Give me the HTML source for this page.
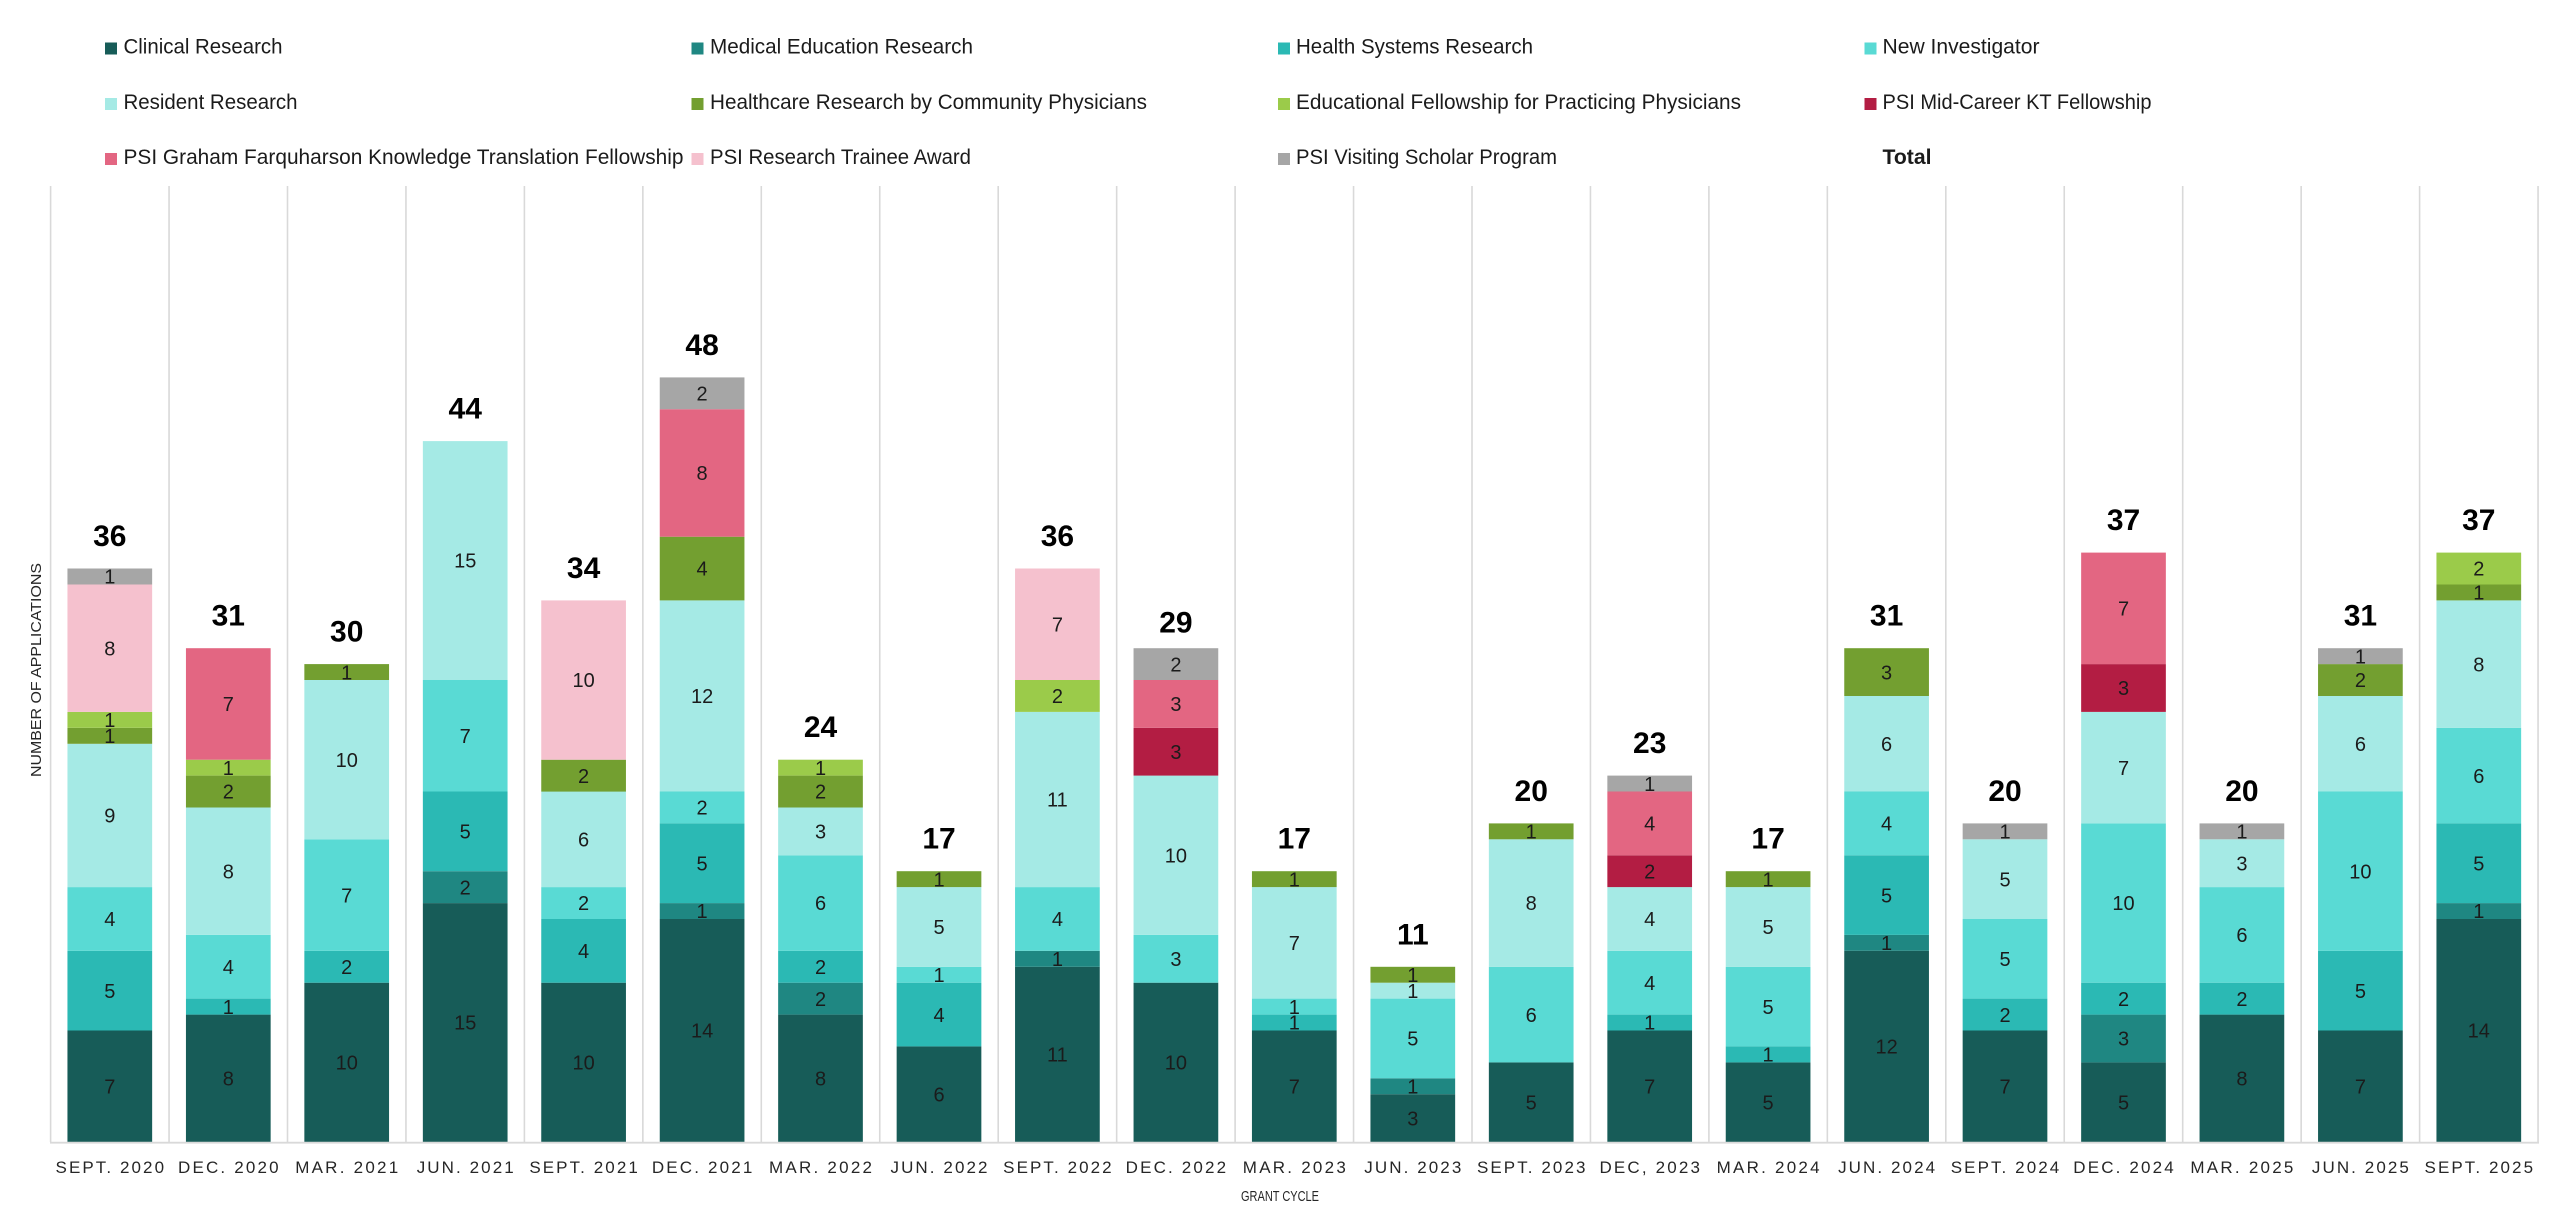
<!DOCTYPE html>
<html>
<head>
<meta charset="utf-8">
<style>
html,body{margin:0;padding:0;background:#fff;}
svg{display:block;}
text{font-family:"Liberation Sans",Arial,sans-serif;}
.c1{fill:#175C58}.c2{fill:#1F8782}.c3{fill:#2BB9B4}.c4{fill:#59DAD4}.c5{fill:#A5EAE5}
.c6{fill:#739F30}.c7{fill:#9BCB4A}.c8{fill:#B31D43}.c9{fill:#E36682}.c10{fill:#F5C1CE}.c11{fill:#A6A6A6}
.bar text{font-size:20px;fill:#1b1b1b;text-anchor:middle;}
.bar text.t{font-size:30px;font-weight:bold;fill:#000;}
.lg text{font-size:21px;fill:#1b1b1b;}
.xl text{font-size:17px;fill:#262626;text-anchor:middle;}
</style>
</head>
<body>
<svg width="2560" height="1232" viewBox="0 0 2560 1232" xmlns="http://www.w3.org/2000/svg">
<rect width="2560" height="1232" fill="#fff"/>

<!-- Legend -->
<g class="lg">
  <rect class="c1" x="105" y="42.5" width="12" height="12"/><text x="123.5" y="53.5" textLength="159" lengthAdjust="spacingAndGlyphs">Clinical Research</text>
  <rect class="c2" x="691.5" y="42.5" width="12" height="12"/><text x="710" y="53.5" textLength="263" lengthAdjust="spacingAndGlyphs">Medical Education Research</text>
  <rect class="c3" x="1278" y="42.5" width="12" height="12"/><text x="1296" y="53.5" textLength="237" lengthAdjust="spacingAndGlyphs">Health Systems Research</text>
  <rect class="c4" x="1864.5" y="42.5" width="12" height="12"/><text x="1882.5" y="53.5" textLength="157" lengthAdjust="spacingAndGlyphs">New Investigator</text>

  <rect class="c5" x="105" y="98" width="12" height="12"/><text x="123.5" y="109" textLength="174" lengthAdjust="spacingAndGlyphs">Resident Research</text>
  <rect class="c6" x="691.5" y="98" width="12" height="12"/><text x="710" y="109" textLength="437" lengthAdjust="spacingAndGlyphs">Healthcare Research by Community Physicians</text>
  <rect class="c7" x="1278" y="98" width="12" height="12"/><text x="1296" y="109" textLength="445" lengthAdjust="spacingAndGlyphs">Educational Fellowship for Practicing Physicians</text>
  <rect class="c8" x="1864.5" y="98" width="12" height="12"/><text x="1882.5" y="109" textLength="269" lengthAdjust="spacingAndGlyphs">PSI Mid-Career KT Fellowship</text>

  <rect class="c9" x="105" y="153" width="12" height="12"/><text x="123.5" y="164" textLength="560" lengthAdjust="spacingAndGlyphs">PSI Graham Farquharson Knowledge Translation Fellowship</text>
  <rect class="c10" x="691.5" y="153" width="12" height="12"/><text x="710" y="164" textLength="261" lengthAdjust="spacingAndGlyphs">PSI Research Trainee Award</text>
  <rect class="c11" x="1278" y="153" width="12" height="12"/><text x="1296" y="164" textLength="261" lengthAdjust="spacingAndGlyphs">PSI Visiting Scholar Program</text>
  <text x="1882.5" y="164" font-weight="bold" textLength="49" lengthAdjust="spacingAndGlyphs">Total</text>
</g>

<!-- Gridlines -->
<g stroke="#D9D9D9" stroke-width="1.6">
  <line x1="50.6" y1="186" x2="50.6" y2="1142"/>
  <line x1="169.05" y1="186" x2="169.05" y2="1142"/>
  <line x1="287.5" y1="186" x2="287.5" y2="1142"/>
  <line x1="405.95" y1="186" x2="405.95" y2="1142"/>
  <line x1="524.4" y1="186" x2="524.4" y2="1142"/>
  <line x1="642.85" y1="186" x2="642.85" y2="1142"/>
  <line x1="761.3" y1="186" x2="761.3" y2="1142"/>
  <line x1="879.75" y1="186" x2="879.75" y2="1142"/>
  <line x1="998.2" y1="186" x2="998.2" y2="1142"/>
  <line x1="1116.65" y1="186" x2="1116.65" y2="1142"/>
  <line x1="1235.1" y1="186" x2="1235.1" y2="1142"/>
  <line x1="1353.55" y1="186" x2="1353.55" y2="1142"/>
  <line x1="1472" y1="186" x2="1472" y2="1142"/>
  <line x1="1590.45" y1="186" x2="1590.45" y2="1142"/>
  <line x1="1708.9" y1="186" x2="1708.9" y2="1142"/>
  <line x1="1827.35" y1="186" x2="1827.35" y2="1142"/>
  <line x1="1945.8" y1="186" x2="1945.8" y2="1142"/>
  <line x1="2064.25" y1="186" x2="2064.25" y2="1142"/>
  <line x1="2182.7" y1="186" x2="2182.7" y2="1142"/>
  <line x1="2301.15" y1="186" x2="2301.15" y2="1142"/>
  <line x1="2419.6" y1="186" x2="2419.6" y2="1142"/>
  <line x1="2538.05" y1="186" x2="2538.05" y2="1142"/>
</g>

<!-- Bars -->
<g class="bar" transform="translate(109.8,0)">
  <rect class="c1" x="-42.35" y="1030.5" width="84.7" height="111.5"/>
  <rect class="c3" x="-42.35" y="950.8" width="84.7" height="79.7"/>
  <rect class="c4" x="-42.35" y="887.1" width="84.7" height="63.7"/>
  <rect class="c5" x="-42.35" y="743.8" width="84.7" height="143.3"/>
  <rect class="c6" x="-42.35" y="727.8" width="84.7" height="16"/>
  <rect class="c7" x="-42.35" y="711.9" width="84.7" height="15.9"/>
  <rect class="c10" x="-42.35" y="584.5" width="84.7" height="127.4"/>
  <rect class="c11" x="-42.35" y="568.5" width="84.7" height="16"/>
  <text y="1093.4">7</text><text y="997.9">5</text><text y="926.2">4</text><text y="822.6">9</text>
  <text y="743">1</text><text y="727.1">1</text><text y="655.4">8</text><text y="583.7">1</text>
  <text class="t" y="546">36</text>
</g>
<g class="bar" transform="translate(228.3,0)">
  <rect class="c1" x="-42.35" y="1014.6" width="84.7" height="127.4"/>
  <rect class="c3" x="-42.35" y="998.6" width="84.7" height="16"/>
  <rect class="c4" x="-42.35" y="934.9" width="84.7" height="63.7"/>
  <rect class="c5" x="-42.35" y="807.5" width="84.7" height="127.4"/>
  <rect class="c6" x="-42.35" y="775.6" width="84.7" height="31.9"/>
  <rect class="c7" x="-42.35" y="759.7" width="84.7" height="15.9"/>
  <rect class="c9" x="-42.35" y="648.2" width="84.7" height="111.5"/>
  <text y="1085.5">8</text><text y="1013.8">1</text><text y="974">4</text><text y="878.4">8</text>
  <text y="798.7">2</text><text y="774.8">1</text><text y="711.1">7</text>
  <text class="t" y="625.7">31</text>
</g>
<g class="bar" transform="translate(346.7,0)">
  <rect class="c1" x="-42.35" y="982.7" width="84.7" height="159.3"/>
  <rect class="c3" x="-42.35" y="950.8" width="84.7" height="31.9"/>
  <rect class="c4" x="-42.35" y="839.3" width="84.7" height="111.5"/>
  <rect class="c5" x="-42.35" y="680" width="84.7" height="159.3"/>
  <rect class="c6" x="-42.35" y="664.1" width="84.7" height="15.9"/>
  <text y="1069.6">10</text><text y="974">2</text><text y="902.3">7</text><text y="766.9">10</text><text y="679.3">1</text>
  <text class="t" y="641.6">30</text>
</g>
<g class="bar" transform="translate(465.2,0)">
  <rect class="c1" x="-42.35" y="903.1" width="84.7" height="238.9"/>
  <rect class="c2" x="-42.35" y="871.2" width="84.7" height="31.9"/>
  <rect class="c3" x="-42.35" y="791.5" width="84.7" height="79.7"/>
  <rect class="c4" x="-42.35" y="680" width="84.7" height="111.5"/>
  <rect class="c5" x="-42.35" y="441.1" width="84.7" height="238.9"/>
  <text y="1029.7">15</text><text y="894.3">2</text><text y="838.6">5</text><text y="743">7</text><text y="567.7">15</text>
  <text class="t" y="418.6">44</text>
</g>
<g class="bar" transform="translate(583.6,0)">
  <rect class="c1" x="-42.35" y="982.7" width="84.7" height="159.3"/>
  <rect class="c3" x="-42.35" y="919" width="84.7" height="63.7"/>
  <rect class="c4" x="-42.35" y="887.1" width="84.7" height="31.9"/>
  <rect class="c5" x="-42.35" y="791.5" width="84.7" height="95.6"/>
  <rect class="c6" x="-42.35" y="759.7" width="84.7" height="31.9"/>
  <rect class="c10" x="-42.35" y="600.4" width="84.7" height="159.3"/>
  <text y="1069.6">10</text><text y="958">4</text><text y="910.2">2</text><text y="846.5">6</text><text y="782.8">2</text><text y="687.2">10</text>
  <text class="t" y="577.9">34</text>
</g>
<g class="bar" transform="translate(702.1,0)">
  <rect class="c1" x="-42.35" y="919" width="84.7" height="223"/>
  <rect class="c2" x="-42.35" y="903.1" width="84.7" height="15.9"/>
  <rect class="c3" x="-42.35" y="823.4" width="84.7" height="79.7"/>
  <rect class="c4" x="-42.35" y="791.5" width="84.7" height="31.9"/>
  <rect class="c5" x="-42.35" y="600.4" width="84.7" height="191.1"/>
  <rect class="c6" x="-42.35" y="536.7" width="84.7" height="63.7"/>
  <rect class="c9" x="-42.35" y="409.2" width="84.7" height="127.5"/>
  <rect class="c11" x="-42.35" y="377.4" width="84.7" height="31.8"/>
  <text y="1037.7">14</text><text y="918.2">1</text><text y="870.4">5</text><text y="814.7">2</text>
  <text y="703.2">12</text><text y="575.7">4</text><text y="480.1">8</text><text y="400.5">2</text>
  <text class="t" y="354.9">48</text>
</g>
<g class="bar" transform="translate(820.5,0)">
  <rect class="c1" x="-42.35" y="1014.6" width="84.7" height="127.4"/>
  <rect class="c2" x="-42.35" y="982.7" width="84.7" height="31.9"/>
  <rect class="c3" x="-42.35" y="950.8" width="84.7" height="31.9"/>
  <rect class="c4" x="-42.35" y="855.3" width="84.7" height="95.5"/>
  <rect class="c5" x="-42.35" y="807.5" width="84.7" height="47.8"/>
  <rect class="c6" x="-42.35" y="775.6" width="84.7" height="31.9"/>
  <rect class="c7" x="-42.35" y="759.7" width="84.7" height="15.9"/>
  <text y="1085.5">8</text><text y="1005.8">2</text><text y="974">2</text><text y="910.2">6</text>
  <text y="838.6">3</text><text y="798.7">2</text><text y="774.8">1</text>
  <text class="t" y="737.2">24</text>
</g>
<g class="bar" transform="translate(939,0)">
  <rect class="c1" x="-42.35" y="1046.4" width="84.7" height="95.6"/>
  <rect class="c3" x="-42.35" y="982.7" width="84.7" height="63.7"/>
  <rect class="c4" x="-42.35" y="966.8" width="84.7" height="15.9"/>
  <rect class="c5" x="-42.35" y="887.1" width="84.7" height="79.7"/>
  <rect class="c6" x="-42.35" y="871.2" width="84.7" height="15.9"/>
  <text y="1101.4">6</text><text y="1021.8">4</text><text y="981.9">1</text><text y="934.1">5</text><text y="886.4">1</text>
  <text class="t" y="848.7">17</text>
</g>
<g class="bar" transform="translate(1057.4,0)">
  <rect class="c1" x="-42.35" y="966.8" width="84.7" height="175.2"/>
  <rect class="c2" x="-42.35" y="950.8" width="84.7" height="16"/>
  <rect class="c4" x="-42.35" y="887.1" width="84.7" height="63.7"/>
  <rect class="c5" x="-42.35" y="711.9" width="84.7" height="175.2"/>
  <rect class="c7" x="-42.35" y="680" width="84.7" height="31.9"/>
  <rect class="c10" x="-42.35" y="568.5" width="84.7" height="111.5"/>
  <text y="1061.6">11</text><text y="966">1</text><text y="926.2">4</text><text y="806.7">11</text><text y="703.2">2</text><text y="631.5">7</text>
  <text class="t" y="546">36</text>
</g>
<g class="bar" transform="translate(1175.9,0)">
  <rect class="c1" x="-42.35" y="982.7" width="84.7" height="159.3"/>
  <rect class="c4" x="-42.35" y="934.9" width="84.7" height="47.8"/>
  <rect class="c5" x="-42.35" y="775.6" width="84.7" height="159.3"/>
  <rect class="c8" x="-42.35" y="727.8" width="84.7" height="47.8"/>
  <rect class="c9" x="-42.35" y="680" width="84.7" height="47.8"/>
  <rect class="c11" x="-42.35" y="648.2" width="84.7" height="31.8"/>
  <text y="1069.6">10</text><text y="966">3</text><text y="862.5">10</text><text y="758.9">3</text><text y="711.1">3</text><text y="671.3">2</text>
  <text class="t" y="632.7">29</text>
</g>
<g class="bar" transform="translate(1294.3,0)">
  <rect class="c1" x="-42.35" y="1030.5" width="84.7" height="111.5"/>
  <rect class="c3" x="-42.35" y="1014.6" width="84.7" height="15.9"/>
  <rect class="c4" x="-42.35" y="998.6" width="84.7" height="16"/>
  <rect class="c5" x="-42.35" y="887.1" width="84.7" height="111.5"/>
  <rect class="c6" x="-42.35" y="871.2" width="84.7" height="15.9"/>
  <text y="1093.4">7</text><text y="1029.7">1</text><text y="1013.8">1</text><text y="950.1">7</text><text y="886.4">1</text>
  <text class="t" y="848.7">17</text>
</g>
<g class="bar" transform="translate(1412.8,0)">
  <rect class="c1" x="-42.35" y="1094.2" width="84.7" height="47.8"/>
  <rect class="c2" x="-42.35" y="1078.3" width="84.7" height="15.9"/>
  <rect class="c4" x="-42.35" y="998.6" width="84.7" height="79.7"/>
  <rect class="c5" x="-42.35" y="982.7" width="84.7" height="15.9"/>
  <rect class="c6" x="-42.35" y="966.8" width="84.7" height="15.9"/>
  <text y="1125.3">3</text><text y="1093.4">1</text><text y="1045.7">5</text><text y="997.9">1</text><text y="981.9">1</text>
  <text class="t" y="944.3">11</text>
</g>
<g class="bar" transform="translate(1531.2,0)">
  <rect class="c1" x="-42.35" y="1062.4" width="84.7" height="79.6"/>
  <rect class="c4" x="-42.35" y="966.8" width="84.7" height="95.6"/>
  <rect class="c5" x="-42.35" y="839.3" width="84.7" height="127.5"/>
  <rect class="c6" x="-42.35" y="823.4" width="84.7" height="15.9"/>
  <text y="1109.4">5</text><text y="1021.8">6</text><text y="910.2">8</text><text y="838.6">1</text>
  <text class="t" y="800.9">20</text>
</g>
<g class="bar" transform="translate(1649.7,0)">
  <rect class="c1" x="-42.35" y="1030.5" width="84.7" height="111.5"/>
  <rect class="c3" x="-42.35" y="1014.6" width="84.7" height="15.9"/>
  <rect class="c4" x="-42.35" y="950.8" width="84.7" height="63.8"/>
  <rect class="c5" x="-42.35" y="887.1" width="84.7" height="63.7"/>
  <rect class="c8" x="-42.35" y="855.3" width="84.7" height="31.8"/>
  <rect class="c9" x="-42.35" y="791.5" width="84.7" height="63.8"/>
  <rect class="c11" x="-42.35" y="775.6" width="84.7" height="15.9"/>
  <text y="1093.4">7</text><text y="1029.7">1</text><text y="989.9">4</text><text y="926.2">4</text>
  <text y="878.4">2</text><text y="830.6">4</text><text y="790.8">1</text>
  <text class="t" y="753.1">23</text>
</g>
<g class="bar" transform="translate(1768.1,0)">
  <rect class="c1" x="-42.35" y="1062.4" width="84.7" height="79.6"/>
  <rect class="c3" x="-42.35" y="1046.4" width="84.7" height="16"/>
  <rect class="c4" x="-42.35" y="966.8" width="84.7" height="79.6"/>
  <rect class="c5" x="-42.35" y="887.1" width="84.7" height="79.7"/>
  <rect class="c6" x="-42.35" y="871.2" width="84.7" height="15.9"/>
  <text y="1109.4">5</text><text y="1061.6">1</text><text y="1013.8">5</text><text y="934.1">5</text><text y="886.4">1</text>
  <text class="t" y="848.7">17</text>
</g>
<g class="bar" transform="translate(1886.6,0)">
  <rect class="c1" x="-42.35" y="950.8" width="84.7" height="191.2"/>
  <rect class="c2" x="-42.35" y="934.9" width="84.7" height="15.9"/>
  <rect class="c3" x="-42.35" y="855.3" width="84.7" height="79.6"/>
  <rect class="c4" x="-42.35" y="791.5" width="84.7" height="63.8"/>
  <rect class="c5" x="-42.35" y="696" width="84.7" height="95.5"/>
  <rect class="c6" x="-42.35" y="648.2" width="84.7" height="47.8"/>
  <text y="1053.6">12</text><text y="950.1">1</text><text y="902.3">5</text><text y="830.6">4</text><text y="750.9">6</text><text y="679.3">3</text>
  <text class="t" y="625.7">31</text>
</g>
<g class="bar" transform="translate(2005,0)">
  <rect class="c1" x="-42.35" y="1030.5" width="84.7" height="111.5"/>
  <rect class="c3" x="-42.35" y="998.6" width="84.7" height="31.9"/>
  <rect class="c4" x="-42.35" y="919" width="84.7" height="79.6"/>
  <rect class="c5" x="-42.35" y="839.3" width="84.7" height="79.7"/>
  <rect class="c11" x="-42.35" y="823.4" width="84.7" height="15.9"/>
  <text y="1093.4">7</text><text y="1021.8">2</text><text y="966">5</text><text y="886.4">5</text><text y="838.6">1</text>
  <text class="t" y="800.9">20</text>
</g>
<g class="bar" transform="translate(2123.5,0)">
  <rect class="c1" x="-42.35" y="1062.4" width="84.7" height="79.6"/>
  <rect class="c2" x="-42.35" y="1014.6" width="84.7" height="47.8"/>
  <rect class="c3" x="-42.35" y="982.7" width="84.7" height="31.9"/>
  <rect class="c4" x="-42.35" y="823.4" width="84.7" height="159.3"/>
  <rect class="c5" x="-42.35" y="711.9" width="84.7" height="111.5"/>
  <rect class="c8" x="-42.35" y="664.1" width="84.7" height="47.8"/>
  <rect class="c9" x="-42.35" y="552.6" width="84.7" height="111.5"/>
  <text y="1109.4">5</text><text y="1045.7">3</text><text y="1005.8">2</text><text y="910.2">10</text>
  <text y="774.8">7</text><text y="695.2">3</text><text y="615.5">7</text>
  <text class="t" y="530.1">37</text>
</g>
<g class="bar" transform="translate(2241.9,0)">
  <rect class="c1" x="-42.35" y="1014.6" width="84.7" height="127.4"/>
  <rect class="c3" x="-42.35" y="982.7" width="84.7" height="31.9"/>
  <rect class="c4" x="-42.35" y="887.1" width="84.7" height="95.6"/>
  <rect class="c5" x="-42.35" y="839.3" width="84.7" height="47.8"/>
  <rect class="c11" x="-42.35" y="823.4" width="84.7" height="15.9"/>
  <text y="1085.5">8</text><text y="1005.8">2</text><text y="942.1">6</text><text y="870.4">3</text><text y="838.6">1</text>
  <text class="t" y="800.9">20</text>
</g>
<g class="bar" transform="translate(2360.4,0)">
  <rect class="c1" x="-42.35" y="1030.5" width="84.7" height="111.5"/>
  <rect class="c3" x="-42.35" y="950.8" width="84.7" height="79.7"/>
  <rect class="c4" x="-42.35" y="791.5" width="84.7" height="159.3"/>
  <rect class="c5" x="-42.35" y="696" width="84.7" height="95.5"/>
  <rect class="c6" x="-42.35" y="664.1" width="84.7" height="31.9"/>
  <rect class="c11" x="-42.35" y="648.2" width="84.7" height="15.9"/>
  <text y="1093.4">7</text><text y="997.9">5</text><text y="878.4">10</text><text y="750.9">6</text><text y="687.2">2</text><text y="663.3">1</text>
  <text class="t" y="625.7">31</text>
</g>
<g class="bar" transform="translate(2478.8,0)">
  <rect class="c1" x="-42.35" y="919" width="84.7" height="223"/>
  <rect class="c2" x="-42.35" y="903.1" width="84.7" height="15.9"/>
  <rect class="c3" x="-42.35" y="823.4" width="84.7" height="79.7"/>
  <rect class="c4" x="-42.35" y="727.8" width="84.7" height="95.6"/>
  <rect class="c5" x="-42.35" y="600.4" width="84.7" height="127.4"/>
  <rect class="c6" x="-42.35" y="584.5" width="84.7" height="15.9"/>
  <rect class="c7" x="-42.35" y="552.6" width="84.7" height="31.9"/>
  <text y="1037.7">14</text><text y="918.2">1</text><text y="870.4">5</text><text y="782.8">6</text>
  <text y="671.3">8</text><text y="599.6">1</text><text y="575.7">2</text>
  <text class="t" y="530.1">37</text>
</g>

<!-- Baseline -->
<line x1="50" y1="1142.7" x2="2539" y2="1142.7" stroke="#D9D9D9" stroke-width="1.8"/>

<!-- X labels -->
<g class="xl">
  <text x="109.8" y="1173" textLength="108.5" lengthAdjust="spacing">SEPT. 2020</text>
  <text x="228.3" y="1173" textLength="100.5" lengthAdjust="spacing">DEC. 2020</text>
  <text x="346.7" y="1173" textLength="103" lengthAdjust="spacing">MAR. 2021</text>
  <text x="465.2" y="1173" textLength="97" lengthAdjust="spacing">JUN. 2021</text>
  <text x="583.6" y="1173" textLength="108.5" lengthAdjust="spacing">SEPT. 2021</text>
  <text x="702.1" y="1173" textLength="100.5" lengthAdjust="spacing">DEC. 2021</text>
  <text x="820.5" y="1173" textLength="103" lengthAdjust="spacing">MAR. 2022</text>
  <text x="939" y="1173" textLength="97" lengthAdjust="spacing">JUN. 2022</text>
  <text x="1057.4" y="1173" textLength="108.5" lengthAdjust="spacing">SEPT. 2022</text>
  <text x="1175.9" y="1173" textLength="100.5" lengthAdjust="spacing">DEC. 2022</text>
  <text x="1294.3" y="1173" textLength="103" lengthAdjust="spacing">MAR. 2023</text>
  <text x="1412.8" y="1173" textLength="97" lengthAdjust="spacing">JUN. 2023</text>
  <text x="1531.2" y="1173" textLength="108.5" lengthAdjust="spacing">SEPT. 2023</text>
  <text x="1649.7" y="1173" textLength="100.5" lengthAdjust="spacing">DEC, 2023</text>
  <text x="1768.1" y="1173" textLength="103" lengthAdjust="spacing">MAR. 2024</text>
  <text x="1886.6" y="1173" textLength="97" lengthAdjust="spacing">JUN. 2024</text>
  <text x="2005" y="1173" textLength="108.5" lengthAdjust="spacing">SEPT. 2024</text>
  <text x="2123.5" y="1173" textLength="100.5" lengthAdjust="spacing">DEC. 2024</text>
  <text x="2241.9" y="1173" textLength="103" lengthAdjust="spacing">MAR. 2025</text>
  <text x="2360.4" y="1173" textLength="97" lengthAdjust="spacing">JUN. 2025</text>
  <text x="2478.8" y="1173" textLength="108.5" lengthAdjust="spacing">SEPT. 2025</text>
</g>

<!-- Axis titles -->
<text x="1280" y="1201" font-size="15" fill="#262626" text-anchor="middle" textLength="78" lengthAdjust="spacingAndGlyphs">GRANT CYCLE</text>
<text transform="translate(41,670) rotate(-90)" x="0" y="0" font-size="15" fill="#262626" text-anchor="middle" textLength="214" lengthAdjust="spacingAndGlyphs">NUMBER OF APPLICATIONS</text>
</svg>
</body>
</html>
